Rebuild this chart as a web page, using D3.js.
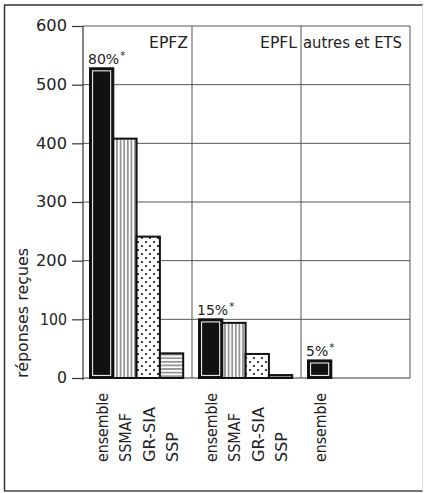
<!DOCTYPE html>
<html><head><meta charset="utf-8">
<script src="https://cdn.jsdelivr.net/npm/d3@7"></script>
<style>
html,body{margin:0;padding:0;background:#fff;}
text{font-family:"DejaVu Sans",sans-serif;fill:#222;}
</style></head>
<body>
<svg id="c" width="425" height="493"></svg>
<script>
const groups = ["EPFZ", "EPFL", "autres et ETS"];
const subcats = ["ensemble", "SSMAF", "GR-SIA", "SSP"];
const epfzValues = [528, 408, 241, 42];
const epflValues = [100, 94, 41, 5];
const autresValues = [30];
const shareLabels = ["80%", "15%", "5%"];
const yTicks = [0, 100, 200, 300, 400, 500, 600];
const yTitle = "réponses reçues";

const groupValues = [epfzValues, epflValues, autresValues];
const bars = [];
groups.forEach((g, gi) => groupValues[gi].forEach((v, si) => bars.push({group: g, sub: subcats[si], value: v})));

const svg = d3.select("#c");
const pLeft = 83, pRight = 410, pTop = 26, pBottom = 378;

// frame
svg.append("line").attr("x1",4).attr("x2",423).attr("y1",5).attr("y2",5).attr("stroke","#333").attr("stroke-width",1.5);
svg.append("line").attr("x1",4.5).attr("x2",4.5).attr("y1",5).attr("y2",491).attr("stroke","#333").attr("stroke-width",1.5);
svg.append("line").attr("x1",4).attr("x2",423).attr("y1",491).attr("y2",491).attr("stroke","#444").attr("stroke-width",1.5);
svg.append("line").attr("x1",422.5).attr("x2",422.5).attr("y1",5).attr("y2",491).attr("stroke","#ddd").attr("stroke-width",1);

const y = d3.scaleLinear().domain([0, 600]).range([pBottom, pTop]);
const xg = d3.scaleBand().domain(groups).range([pLeft, pRight]).padding(0);
const xs = d3.scaleBand().domain(subcats).range([7, 7 + 4 * 23.3]).padding(0);

// patterns
const defs = svg.append("defs");
const pv = defs.append("pattern").attr("id","pv").attr("patternUnits","userSpaceOnUse").attr("width",3.6).attr("height",4);
pv.append("rect").attr("width",3.6).attr("height",4).attr("fill","#fff");
pv.append("line").attr("x1",1.8).attr("x2",1.8).attr("y1",0).attr("y2",4).attr("stroke","#222").attr("stroke-width",0.9);
const ph = defs.append("pattern").attr("id","ph").attr("patternUnits","userSpaceOnUse").attr("width",4).attr("height",3.6);
ph.append("rect").attr("width",4).attr("height",3.6).attr("fill","#fff");
ph.append("line").attr("y1",1.8).attr("y2",1.8).attr("x1",0).attr("x2",4).attr("stroke","#222").attr("stroke-width",0.9);
const pd = defs.append("pattern").attr("id","pd").attr("patternUnits","userSpaceOnUse").attr("width",8).attr("height",8);
pd.append("rect").attr("width",8).attr("height",8).attr("fill","#fff");
pd.append("circle").attr("cx",2).attr("cy",2).attr("r",1.1).attr("fill","#111");
pd.append("circle").attr("cx",6).attr("cy",6).attr("r",1.1).attr("fill","#111");
const fills = {"ensemble":"#111","SSMAF":"url(#pv)","GR-SIA":"url(#pd)","SSP":"url(#ph)"};

// grid
const grid = svg.append("g");
grid.selectAll("line.h").data(yTicks.filter(d => d > 0)).join("line")
  .attr("x1", pLeft).attr("x2", pRight).attr("y1", d => y(d)).attr("y2", d => y(d))
  .attr("stroke","#555").attr("stroke-width",1);
grid.selectAll("line.v").data(groups).join("line")
  .attr("x1", d => xg(d) + xg.bandwidth()).attr("x2", d => xg(d) + xg.bandwidth())
  .attr("y1", pTop).attr("y2", pBottom).attr("stroke","#555").attr("stroke-width",1);

// y axis
const yAxis = svg.append("g").attr("transform",`translate(${pLeft},0)`)
  .call(d3.axisLeft(y).tickValues(yTicks).tickSize(11).tickPadding(5).tickFormat(d3.format("d")));
yAxis.select(".domain").attr("stroke","#333").attr("stroke-width",1.2).attr("d",`M-0,${pBottom+2}V${pTop}`);
yAxis.selectAll(".tick line").attr("stroke","#333").attr("stroke-width",1.2);
yAxis.selectAll(".tick text").attr("font-size",15).attr("font-family","DejaVu Sans").attr("fill","#333")
  .attr("textLength", d => String(d).length === 1 ? 10 : (String(d)[0] === "1" ? 27 : 31)).attr("lengthAdjust","spacingAndGlyphs");
// zero baseline
svg.append("line").attr("x1", pLeft).attr("x2", pRight).attr("y1", y(0)).attr("y2", y(0)).attr("stroke","#333").attr("stroke-width",1.2);

// bars
const bx = d => xg(d.group) + xs(d.sub);
const bw = xs.bandwidth();
const barG = svg.append("g");
barG.selectAll("rect.bar").data(bars).join("rect").attr("class","bar")
  .attr("x", d => bx(d)).attr("y", d => y(d.value)).attr("width", bw).attr("height", d => y(0) - y(d.value))
  .attr("fill", d => fills[d.sub]).attr("stroke","#111").attr("stroke-width",2);
barG.selectAll("rect.inner").data(bars.filter(d => d.sub === "ensemble")).join("rect").attr("class","inner")
  .attr("x", d => bx(d) + 2.6).attr("y", d => y(d.value) + 2.6).attr("width", bw - 5.2)
  .attr("height", d => y(0) - y(d.value) - 5.2).attr("fill","none").attr("stroke","#fff").attr("stroke-width",1);

// share labels
const sl = svg.append("g").selectAll("text").data(bars.filter(d => d.sub === "ensemble")).join("text")
  .attr("x", d => bx(d) - 2).attr("y", d => y(d.value) - 4).attr("font-size",14);
sl.append("tspan").text((d, i) => shareLabels[i]);
sl.append("tspan").attr("dy",-5).attr("dx",1).attr("font-size",10).text("*");

// group headers
const headerLen = {"EPFZ":39, "EPFL":37, "autres et ETS":99};
svg.append("g").selectAll("text").data(groups).join("text")
  .attr("x", (d, i) => xg(d) + xg.bandwidth() - (i === 2 ? 8 : 4)).attr("y", 48)
  .attr("text-anchor","end").attr("font-size",16)
  .attr("textLength", d => headerLen[d]).attr("lengthAdjust","spacingAndGlyphs").text(d => d);

// x labels
const labelLen = {"ensemble":69, "SSMAF":49, "GR-SIA":55, "SSP":30};
svg.append("g").selectAll("text").data(bars).join("text")
  .attr("transform", d => `translate(${bx(d) + bw / 2 + 1},462) rotate(-90)`)
  .attr("dy","0.36em").attr("font-size",15)
  .attr("textLength", d => labelLen[d.sub]).attr("lengthAdjust","spacingAndGlyphs")
  .text(d => d.sub);

// y title
svg.append("text").attr("transform","translate(23,313) rotate(-90)").attr("text-anchor","middle")
  .attr("dy","0.36em").attr("font-size",15).attr("textLength",130).attr("lengthAdjust","spacingAndGlyphs").text(yTitle);
</script>
</body></html>
